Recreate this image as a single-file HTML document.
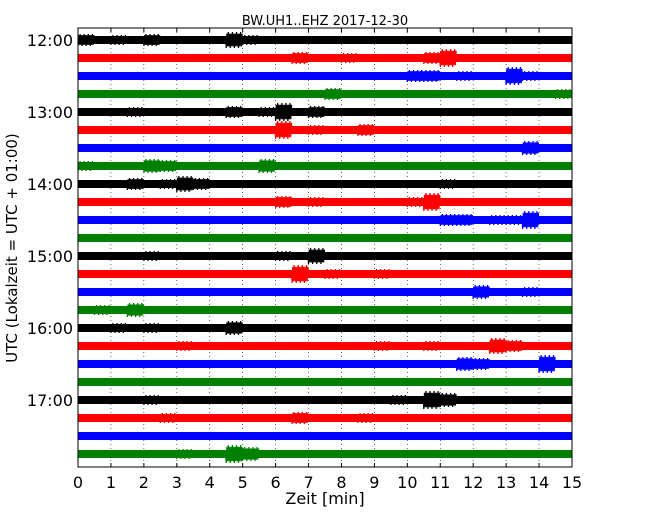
<!DOCTYPE html>
<html><head><meta charset="utf-8"><style>
html,body{margin:0;padding:0;background:#fff}
svg{display:block;font-family:"DejaVu Sans","Liberation Sans",sans-serif}
</style></head><body>
<svg id="chart" width="650" height="520">
<text x="325" y="25" text-anchor="middle" font-size="13">BW.UH1..EHZ 2017-12-30</text>
<text x="325" y="504" text-anchor="middle" font-size="16">Zeit  [min]</text>
<text transform="translate(17,248) rotate(-90)" text-anchor="middle" font-size="15">UTC (Lokalzeit = UTC + 01:00)</text>
<g id="grid"></g><g id="traces"></g><g id="axes"></g>
</svg>
<script>
const xTicks=[0,1,2,3,4,5,6,7,8,9,10,11,12,13,14,15];
const hourLabels=["12:00","13:00","14:00","15:00","16:00","17:00"];
const colors=["#000000","#ff0000","#0000ff","#008000"];
// envelope half-amplitudes per 0.5-min bin (30 bins) for each 15-min trace
const T0=[6,4,5,4,6,4,4,4,4,8,5,4,4,4,4,4,4,4,4,4,4,4,4,4,4,4,4,4,4,4];
const T1=[4,4,4,4,4,4,4,4,4,4,4,4,4,6,4,4,5,4,4,4,4,6,9,4,4,4,4,4,4,4];
const T2=[4,4,4,4,4,4,4,4,4,4,4,4,4,4,4,4,4,4,4,4,6,6,4,5,4,4,9,5,4,4];
const T3=[4,4,4,4,4,4,4,4,4,4,4,4,4,4,4,6,4,4,4,4,4,4,4,4,4,4,4,4,4,5];
const T4=[4,4,4,5,4,4,4,4,4,6,4,5,9,4,6,4,4,4,4,4,4,4,4,4,4,4,4,4,4,4];
const T5=[4,4,4,4,4,4,4,4,4,4,4,4,9,4,5,4,4,6,4,4,4,4,4,4,4,4,4,4,4,4];
const T6=[4,4,4,4,4,4,4,4,4,4,4,4,4,4,4,4,4,4,4,4,4,4,4,4,4,4,4,7,4,4];
const T7=[5,4,4,4,7,6,4,4,4,4,4,7,4,4,4,4,4,4,4,4,4,4,4,4,4,4,4,4,4,4];
const T8=[4,4,4,6,4,5,8,6,4,4,4,4,4,4,4,4,4,4,4,4,4,4,5,4,4,4,4,4,4,4];
const T9=[4,4,4,4,4,4,4,4,4,4,4,4,6,4,5,4,4,4,4,4,5,9,4,4,4,4,4,4,4,4];
const T10=[4,4,4,4,4,4,4,4,4,4,4,4,4,4,4,4,4,4,4,4,4,4,6,6,4,5,5,9,4,4];
const T11=[4,4,4,4,4,4,4,4,4,4,4,4,4,4,4,4,4,4,4,4,4,4,4,4,4,4,4,4,4,4];
const T12=[4,4,4,4,5,4,4,4,4,4,4,4,5,4,8,4,4,4,4,4,4,4,4,4,4,4,4,4,4,4];
const T13=[4,4,4,4,4,4,4,4,4,4,4,4,4,9,4,5,4,4,5,4,4,4,4,4,4,4,4,4,4,4];
const T14=[4,4,4,4,4,4,4,4,4,4,4,4,4,4,4,4,4,4,4,4,4,4,4,4,7,4,4,5,4,4];
const T15=[4,5,4,7,4,4,4,4,4,4,4,4,4,4,4,4,4,4,4,4,4,4,4,4,4,4,4,4,4,4];
const T16=[4,4,5,4,5,4,4,4,4,7,4,4,4,4,4,4,4,4,4,4,4,4,4,4,4,4,4,4,4,4];
const T17=[4,4,4,4,4,4,5,4,4,4,4,4,4,4,4,4,4,4,5,4,4,5,4,4,4,8,6,4,4,4];
const T18=[4,4,4,4,4,4,4,4,4,4,4,4,4,4,4,4,4,4,4,4,4,4,4,7,6,4,4,4,9,4];
const T19=[4,4,4,4,4,4,4,4,4,4,4,4,4,4,4,4,4,4,4,4,4,4,4,4,4,4,4,4,4,4];
const T20=[4,4,4,4,5,4,4,4,4,4,4,4,4,4,4,4,4,4,4,5,4,9,7,4,4,4,4,4,4,4];
const T21=[4,4,4,4,4,5,4,4,4,4,4,4,4,6,4,4,4,5,4,4,4,4,4,4,4,4,4,4,4,4];
const T22=[4,4,4,4,4,4,4,4,4,4,4,4,4,4,4,4,4,4,4,4,4,4,4,4,4,4,4,4,4,4];
const T23=[4,4,4,4,4,4,5,4,4,9,7,4,4,4,4,4,4,4,4,4,4,4,4,4,4,4,4,4,4,4];
const traces=[T0,T1,T2,T3,T4,T5,T6,T7,T8,T9,T10,T11,T12,T13,T14,T15,T16,T17,T18,T19,T20,T21,T22,T23];

const L=78,R=572,TOP=28,BOT=467,Y0=40,DY=18;
const xs=m=>L+(R-L)*m/15;
const ys=i=>Y0+DY*i;
const NS="http://www.w3.org/2000/svg";
function mk(tag,attrs,parent){const e=document.createElementNS(NS,tag);for(const k in attrs)e.setAttribute(k,attrs[k]);parent.appendChild(e);return e;}
const grid=document.getElementById('grid'),tg=document.getElementById('traces'),ax=document.getElementById('axes');
xTicks.forEach(t=>{
  if(t>0&&t<15){const g=mk('line',{x1:xs(t),x2:xs(t),y1:TOP,y2:BOT,stroke:'#000','stroke-width':0.6,'stroke-dasharray':'1,3'},grid);
  
  }
  const a=mk('line',{x1:xs(t),x2:xs(t),y1:BOT,y2:BOT-4,stroke:'#000'},ax);
  
  
  const b=mk('line',{x1:xs(t),x2:xs(t),y1:TOP,y2:TOP+4,stroke:'#000'},ax);
  
  
  const tx=mk('text',{x:xs(t),y:BOT+21,'text-anchor':'middle','font-size':16},ax);tx.textContent=t;
  
  
});
hourLabels.forEach((h,k)=>{
  const y=ys(k*4);
  const tx=mk('text',{x:73,y:y+6,'text-anchor':'end','font-size':16},ax);tx.textContent=h;
  
  
});
traces.forEach((env,i)=>{
  const y=ys(i);const n=env.length;const bw=(R-L)/n;const sub=24;
  let pts=[];
  for(let b=0;b<n;b++){for(let s=0;s<sub;s++){const x=L+b*bw+s*bw/sub;const f=(s%3===0)?1:0.8;const a=env[b]*f*(s%2?-1:1);pts.push(x.toFixed(1)+','+(y+a).toFixed(1));}}
  const p=mk('polyline',{points:pts.join(' '),fill:'none',stroke:colors[i%4],'stroke-width':1.2},tg);
  
  
  const band=mk('rect',{x:L,y:y-4,width:R-L,height:8,fill:colors[i%4]},tg);
  
  
});
const fr=mk('rect',{x:L,y:TOP,width:R-L,height:BOT-TOP,fill:'none',stroke:'#000','stroke-width':1},ax);


</script>
</body></html>
